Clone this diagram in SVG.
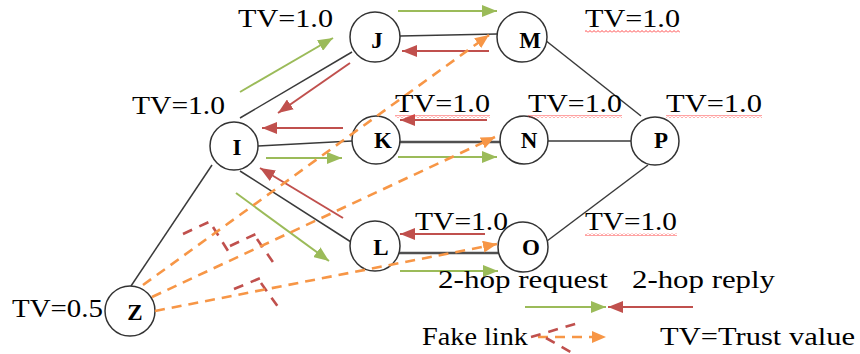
<svg xmlns="http://www.w3.org/2000/svg" width="860" height="354" viewBox="0 0 860 354">
  <defs>
    <style>
      .edge { stroke: #3a3a3a; stroke-width: 1.5; fill: none; }
      .edge.heavy { stroke: #505050; stroke-width: 2.4; }
      .req { stroke: #9BBB59; stroke-width: 2; fill: none; marker-end: url(#headGreen); }
      .rep { stroke: #C0504D; stroke-width: 2; fill: none; marker-end: url(#headRed); }
      .trust { stroke: #F79646; stroke-width: 2.6; stroke-dasharray: 10 7; fill: none; marker-end: url(#headOrange); }
      .fake { stroke: #C0504D; stroke-width: 2.6; stroke-dasharray: 10 8; fill: none; }
      .node circle { fill: #ffffff; stroke: #333333; stroke-width: 1.5; }
      .node text { font-family: "Liberation Serif", "Times New Roman", serif; font-weight: bold; font-size: 23px; text-anchor: middle; fill: #000000; }
      .lbl { font-family: "Liberation Serif", "Times New Roman", serif; font-size: 25px; fill: #000000; }
      .squig { fill: url(#squiggle); }
    </style>
    <marker id="headGreen" markerUnits="userSpaceOnUse" markerWidth="15" markerHeight="12" refX="15" refY="6" orient="auto">
      <path d="M0,0 L15,6 L0,12 z" fill="#9BBB59"/>
    </marker>
    <marker id="headRed" markerUnits="userSpaceOnUse" markerWidth="15" markerHeight="12" refX="15" refY="6" orient="auto">
      <path d="M0,0 L15,6 L0,12 z" fill="#C0504D"/>
    </marker>
    <marker id="headOrange" markerUnits="userSpaceOnUse" markerWidth="14" markerHeight="12" refX="14" refY="6" orient="auto">
      <path d="M0,0 L14,6 L0,12 z" fill="#F79646"/>
    </marker>
    <pattern id="squiggle" patternUnits="userSpaceOnUse" width="4" height="3">
      <path d="M0,2.5 L2,0.5 L4,2.5" stroke="#FF3333" stroke-width="0.9" fill="none"/>
    </pattern>
  </defs>

  <rect x="0" y="0" width="860" height="354" fill="#ffffff"/>

  <!-- links between nodes -->
  <g id="connectors">
    <line class="edge" x1="240" y1="118" x2="352" y2="52"/>
    <line class="edge" x1="400" y1="36" x2="497" y2="34"/>
    <line class="edge" x1="545" y1="40" x2="641" y2="116"/>
    <line class="edge" x1="258" y1="146" x2="352" y2="141"/>
    <line class="edge heavy" x1="400" y1="142" x2="500" y2="142"/>
    <line class="edge" x1="548" y1="141" x2="631" y2="141"/>
    <line class="edge" x1="240" y1="171" x2="351" y2="242"/>
    <line class="edge heavy" x1="399" y1="253" x2="499" y2="253"/>
    <line class="edge" x1="547" y1="241" x2="648" y2="165"/>
    <line class="edge" x1="212" y1="165" x2="131" y2="286"/>

    <!-- 2-hop requests -->
    <line class="req" x1="240" y1="92" x2="333" y2="38"/>
    <line class="req" x1="398" y1="11" x2="497" y2="11"/>
    <line class="req" x1="266" y1="158" x2="342" y2="158"/>
    <line class="req" x1="398" y1="157" x2="497" y2="157"/>
    <line class="req" x1="236" y1="193" x2="329" y2="261"/>
    <line class="req" x1="400" y1="271" x2="498" y2="271"/>

    <!-- 2-hop replies -->
    <line class="rep" x1="489" y1="51" x2="402" y2="51"/>
    <line class="rep" x1="350" y1="63" x2="278" y2="113"/>
    <line class="rep" x1="343" y1="128" x2="262" y2="128"/>
    <line class="rep" x1="487" y1="120" x2="400" y2="120"/>
    <line class="rep" x1="343" y1="218" x2="260" y2="168"/>
    <line class="rep" x1="485" y1="234" x2="400" y2="234"/>

    <!-- fake links -->
    <line class="fake" x1="183" y1="234" x2="211" y2="221"/>
    <line class="fake" x1="213" y1="227" x2="230" y2="254"/>
    <line class="fake" x1="230" y1="246" x2="258" y2="233"/>
    <line class="fake" x1="257" y1="239" x2="277" y2="268"/>
    <line class="fake" x1="234" y1="289" x2="263" y2="277"/>
    <line class="fake" x1="261" y1="283" x2="281" y2="311"/>
  </g>

  <!-- nodes -->
  <g id="node-I" class="node"><circle cx="234" cy="146" r="24"/><text x="237" y="155">I</text></g>
  <g id="node-J" class="node"><circle cx="375" cy="37" r="25"/><text x="377" y="48">J</text></g>
  <g id="node-M" class="node"><circle cx="522" cy="37" r="25"/><text x="530" y="48">M</text></g>
  <g id="node-K" class="node"><circle cx="376" cy="140" r="24"/><text x="383" y="148">K</text></g>
  <g id="node-N" class="node"><circle cx="524" cy="140" r="24"/><text x="529" y="148">N</text></g>
  <g id="node-P" class="node"><circle cx="655" cy="141" r="24"/><text x="661" y="148">P</text></g>
  <g id="node-L" class="node"><circle cx="375" cy="246" r="25"/><text x="381" y="255">L</text></g>
  <g id="node-O" class="node"><circle cx="523" cy="247" r="25"/><text x="531" y="255">O</text></g>
  <g id="node-Z" class="node"><circle cx="130" cy="311" r="25"/><text x="135" y="320">Z</text></g>

  <!-- trust-value paths from Z (drawn over the nodes) -->
  <g id="trust-paths">
    <line class="trust" x1="143" y1="285" x2="489" y2="35"/>
    <line class="trust" x1="152" y1="297" x2="495" y2="137"/>
    <line class="trust" x1="155" y1="311" x2="497" y2="244"/>
  </g>

  <!-- trust values -->
  <g id="labels">
    <text class="lbl" x="238" y="27" textLength="95" lengthAdjust="spacingAndGlyphs">TV=1.0</text>
    <text class="lbl" x="132" y="114" textLength="93" lengthAdjust="spacingAndGlyphs">TV=1.0</text>
    <text class="lbl" x="585" y="27" textLength="95" lengthAdjust="spacingAndGlyphs">TV=1.0</text>
    <text class="lbl" x="395" y="112" textLength="95" lengthAdjust="spacingAndGlyphs">TV=1.0</text>
    <text class="lbl" x="528" y="112" textLength="94" lengthAdjust="spacingAndGlyphs">TV=1.0</text>
    <text class="lbl" x="666" y="112" textLength="96" lengthAdjust="spacingAndGlyphs">TV=1.0</text>
    <text class="lbl" x="415" y="230" textLength="93" lengthAdjust="spacingAndGlyphs">TV=1.0</text>
    <text class="lbl" x="585" y="230" textLength="92" lengthAdjust="spacingAndGlyphs">TV=1.0</text>
    <text class="lbl" x="12" y="317" textLength="91" lengthAdjust="spacingAndGlyphs">TV=0.5</text>

    <rect class="squig" x="585" y="30" width="95" height="3"/>
    <rect class="squig" x="395" y="115" width="95" height="3"/>
    <rect class="squig" x="528" y="115" width="94" height="3"/>
    <rect class="squig" x="666" y="115" width="96" height="3"/>
    <rect class="squig" x="585" y="233" width="92" height="3"/>
  </g>

  <!-- legend -->
  <g id="legend">
    <text class="lbl" x="438" y="288" textLength="170" lengthAdjust="spacingAndGlyphs">2-hop request</text>
    <text class="lbl" x="632" y="288" textLength="143" lengthAdjust="spacingAndGlyphs">2-hop reply</text>
    <line class="req" x1="525" y1="307" x2="606" y2="307"/>
    <line class="rep" x1="693" y1="307" x2="608" y2="307"/>
    <text class="lbl" x="422" y="345" textLength="106" lengthAdjust="spacingAndGlyphs">Fake link</text>
    <line class="trust" x1="538" y1="337" x2="606" y2="337"/>
    <line class="fake" x1="531" y1="337" x2="582" y2="322"/>
    <line class="fake" x1="546" y1="338" x2="574" y2="354"/>
    <text class="lbl" x="660" y="345" textLength="195" lengthAdjust="spacingAndGlyphs">TV=Trust value</text>
  </g>
</svg>
